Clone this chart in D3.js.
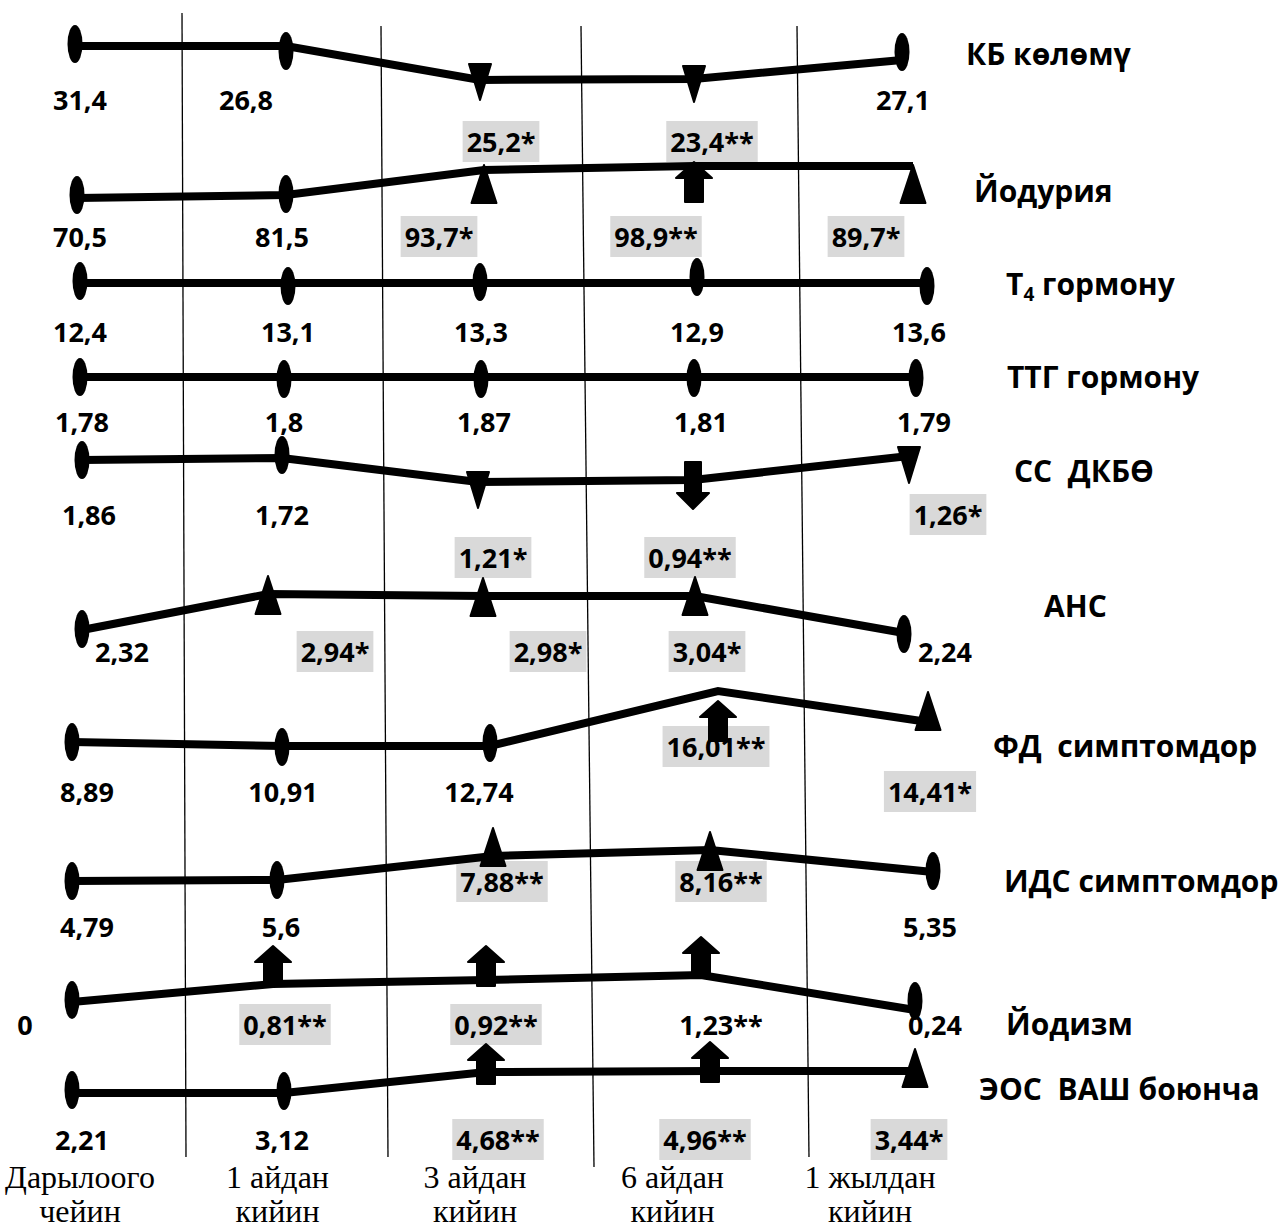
<!DOCTYPE html>
<html lang="ky">
<head>
<meta charset="UTF-8" />
<title>Көрсөткүчтөрдүн динамикасы</title>
<style>
  body { margin: 0; background: #fff; }
  svg text { font-family: "Open Sans", "Noto Sans", sans-serif; }
</style>
</head>
<body>
<div id="chart"></div>
<script src="https://cdn.jsdelivr.net/npm/d3@7"></script>
<script>
var width = 1288;
var height = 1231;

// time points and indicators
var periods = ["Дарылоого чейин", "1 айдан кийин", "3 айдан кийин", "6 айдан кийин", "1 жылдан кийин"];
var indicators = ["КБ көлөмү", "Йодурия", "Т4 гормону", "ТТГ гормону", "СС  ДКБӨ",
                  "АНС", "ФД  симптомдор", "ИДС симптомдор", "Йодизм", "ЭОС  ВАШ боюнча"];

// values per indicator
var kbValues     = [31.4, 26.8, 25.2, 23.4, 27.1];
var iodValues    = [70.5, 81.5, 93.7, 98.9, 89.7];
var t4Values     = [12.4, 13.1, 13.3, 12.9, 13.6];
var ttgValues    = [1.78, 1.8, 1.87, 1.81, 1.79];
var ssValues     = [1.86, 1.72, 1.21, 0.94, 1.26];
var ansValues    = [2.32, 2.94, 2.98, 3.04, 2.24];
var fdValues     = [8.89, 10.91, 12.74, 16.01, 14.41];
var idsValues    = [4.79, 5.6, 7.88, 8.16, 5.35];
var iodismValues = [0, 0.81, 0.92, 1.23, 0.24];
var eosValues    = [2.21, 3.12, 4.68, 4.96, 3.44];

// significance marks
var kbSig     = ["", "", "*", "**", ""];
var iodSig    = ["", "", "*", "**", "*"];
var t4Sig     = ["", "", "", "", ""];
var ttgSig    = ["", "", "", "", ""];
var ssSig     = ["", "", "*", "**", "*"];
var ansSig    = ["", "*", "*", "*", ""];
var fdSig     = ["", "", "", "**", "*"];
var idsSig    = ["", "", "**", "**", ""];
var iodismSig = ["", "**", "**", "**", ""];
var eosSig    = ["", "", "**", "**", "*"];

// marker kind at every point
var kbMarks     = ["ellipse", "ellipse", "triDown", "triDown", "ellipse"];
var iodMarks    = ["ellipse", "ellipse", "triUp", "arrowUp", "triUp"];
var t4Marks     = ["ellipse", "ellipse", "ellipse", "ellipse", "ellipse"];
var ttgMarks    = ["ellipse", "ellipse", "ellipse", "ellipse", "ellipse"];
var ssMarks     = ["ellipse", "ellipse", "triDown", "arrowDown", "triDown"];
var ansMarks    = ["ellipse", "triUp", "triUp", "triUp", "ellipse"];
var fdMarks     = ["ellipse", "ellipse", "ellipse", "arrowUp", "triUp"];
var idsMarks    = ["ellipse", "ellipse", "triUp", "triUp", "ellipse"];
var iodismMarks = ["ellipse", "arrowUp", "arrowUp", "arrowUp", "ellipse"];
var eosMarks    = ["ellipse", "ellipse", "arrowUp", "arrowUp", "triUp"];

var allValues = [kbValues, iodValues, t4Values, ttgValues, ssValues, ansValues, fdValues, idsValues, iodismValues, eosValues];
var allSig = [kbSig, iodSig, t4Sig, ttgSig, ssSig, ansSig, fdSig, idsSig, iodismSig, eosSig];
var allMarks = [kbMarks, iodMarks, t4Marks, ttgMarks, ssMarks, ansMarks, fdMarks, idsMarks, iodismMarks, eosMarks];

// ---- layout of the schematic (not data) ----
var colBase = [76, 283, 484, 700, 916];
var rowBase = [46, 198, 283, 377, 460, 630, 742, 881, 1002, 1093];
var lineShift = [
  [0, 0, 34, 33, 14], [0, -3, -28, -32, -32], [0, 0, 0, 0, 0], [0, 0, 0, 0, 0], [0, -2, 22, 20, -4],
  [0, -36, -34, -34, 3], [0, 4, 4, -51, -20], [0, -1, -25, -31, -9], [0, -18, -22, -27, 8], [0, 0, -21, -22, -22]
];
var markShift = [
  [-2, 5, 2, 5, -8], [-3, -1, 14, 16, 18], [-2, 3, -1, -6, 3], [0, 2, 2, 1, 1], [0, -3, 8, 5, 9],
  [-1, 1, 1, 0, 1], [0, 1, -3, 30, -11], [0, 0, -9, 1, -1], [-2, -18, -14, -18, -9], [-3, -2, -8, -9, -3]
];
var markDx = [
  [-1, 3, -4, -6, -14], [1, 3, 0, -6, -3], [4, 5, -4, -3, 11], [4, 1, -3, -6, 0], [6, -1, -6, -7, -7],
  [6, -15, -1, -5, -12], [-4, -1, 6, 18, 12], [-4, -6, 9, 10, 17], [-4, -10, 2, 1, -1], [-4, 1, 2, 10, -1]
];
var labBase = [110, 247, 342, 432, 525, 662, 802, 937, 1035, 1150];
var labAlt  = [152, 247, 342, 432, 568, 662, 757, 892, 1035, 1150];
var labUp = [
  [0, 0, 1, 1, 0], [0, 0, 0, 0, 0], [0, 0, 0, 0, 0], [0, 0, 0, 0, 0], [0, 0, 1, 1, 0],
  [0, 0, 0, 0, 0], [0, 0, 0, 1, 0], [0, 0, 1, 1, 0], [0, 0, 0, 0, 0], [0, 0, 0, 0, 0]
];
var labDx = [
  [5, -40, 21, 18, 1], [3, -4, -45, -38, -47], [0, 0, 1, 0, -8], [2, 0, 3, 7, 8], [7, 0, 15, -3, 39],
  [40, 67, 65, 12, 41], [15, 1, -11, -2, 2], [15, 4, 9, 11, -3], [-47, 12, 10, 20, 20], [10, -2, 12, -5, -6]
];
var noBox = [[8, 3]]; // row, column of a starred value printed without shading
var nameX = [966, 974, 1006, 1007, 1014, 1044, 993, 1004, 1006, 979];
var nameY = [65, 202, 295, 388, 482, 617, 757, 892, 1035, 1100];
var dividerTop = [[182, 13], [381, 26], [581, 26], [797, 26]];
var dividerBottom = [[186, 1157], [388, 1157], [594, 1167], [809, 1157]];

var colX = d3.scaleOrdinal().domain(periods).range(colBase);
var rowY = d3.scaleOrdinal().domain(indicators).range(rowBase);
var periodX = d3.scalePoint().domain(periods).range([80, 870]);

var comma = d3.formatLocale({decimal: ",", thousands: " ", grouping: [3], currency: ["", ""]});
var fmt = comma.format("");

var rows = indicators.map(function(name, r) {
  return {
    name: name,
    index: r,
    points: periods.map(function(p, i) {
      var lineY = rowY(name) + lineShift[r][i];
      var boxed = allSig[r][i] !== "" && !noBox.some(function(n) { return n[0] === r && n[1] === i; });
      return {
        x: colX(p) + markDx[r][i],
        y: lineY,
        my: lineY + markShift[r][i],
        mark: allMarks[r][i],
        text: fmt(allValues[r][i]) + allSig[r][i],
        boxed: boxed,
        lx: colX(p) + markDx[r][i] + labDx[r][i],
        ly: labUp[r][i] ? labAlt[r] : labBase[r]
      };
    })
  };
});

var svg = d3.select("#chart")
            .append("svg")
            .attr("width", width)
            .attr("height", height);

// thin vertical dividers between periods
svg.selectAll("line.divider")
   .data(d3.range(dividerTop.length))
   .enter()
   .append("line")
   .attr("class", "divider")
   .attr("x1", function(i) { return dividerTop[i][0]; })
   .attr("y1", function(i) { return dividerTop[i][1]; })
   .attr("x2", function(i) { return dividerBottom[i][0]; })
   .attr("y2", function(i) { return dividerBottom[i][1]; })
   .attr("stroke", "#000")
   .attr("stroke-width", 1.3);

// value labels (shaded when significant)
var allPoints = [];
rows.forEach(function(row) { row.points.forEach(function(p) { allPoints.push(p); }); });

var labels = svg.selectAll("g.value")
                .data(allPoints)
                .enter()
                .append("g")
                .attr("class", "value");
labels.append("rect")
      .attr("fill", "#d9d9d9");
labels.append("text")
      .attr("x", function(d) { return d.lx; })
      .attr("y", function(d) { return d.ly; })
      .attr("text-anchor", "middle")
      .style("font-size", "27px")
      .style("font-weight", 700)
      .text(function(d) { return d.text; });
labels.each(function(d) {
  var g = d3.select(this);
  var w = g.select("text").node().getComputedTextLength();
  g.select("rect")
   .attr("x", d.lx - w / 2 - 4)
   .attr("y", d.ly - 31)
   .attr("width", w + 8)
   .attr("height", 41)
   .attr("display", d.boxed ? null : "none");
});

// connecting lines
var line = d3.line()
             .x(function(d) { return d.x; })
             .y(function(d) { return d.y; });

svg.selectAll("path.trend")
   .data(rows)
   .enter()
   .append("path")
   .attr("class", "trend")
   .attr("d", function(d) { return line(d.points); })
   .attr("fill", "none")
   .attr("stroke", "#000")
   .attr("stroke-width", 8)
   .attr("stroke-linejoin", "miter");

// markers
function markerPath(d) {
  var x = d.x, y = d.my;
  if (d.mark === "triUp") {
    return "M" + x + "," + (y - 19) + "L" + (x + 12.5) + "," + (y + 19) + "L" + (x - 12.5) + "," + (y + 19) + "Z";
  }
  if (d.mark === "triDown") {
    return "M" + (x - 11) + "," + (y - 18) + "L" + (x + 11) + "," + (y - 18) + "L" + x + "," + (y + 18) + "Z";
  }
  if (d.mark === "arrowUp") {
    return "M" + x + "," + (y - 20) + "L" + (x + 18) + "," + (y - 4) + "L" + (x + 9) + "," + (y - 4) +
           "L" + (x + 9) + "," + (y + 20) + "L" + (x - 9) + "," + (y + 20) + "L" + (x - 9) + "," + (y - 4) +
           "L" + (x - 18) + "," + (y - 4) + "Z";
  }
  // arrowDown
  return "M" + (x - 8) + "," + (y - 23) + "L" + (x + 8) + "," + (y - 23) + "L" + (x + 8) + "," + (y + 8) +
         "L" + (x + 16) + "," + (y + 8) + "L" + x + "," + (y + 24) + "L" + (x - 16) + "," + (y + 8) +
         "L" + (x - 8) + "," + (y + 8) + "Z";
}

svg.selectAll("ellipse.mark")
   .data(allPoints.filter(function(d) { return d.mark === "ellipse"; }))
   .enter()
   .append("ellipse")
   .attr("class", "mark")
   .attr("cx", function(d) { return d.x; })
   .attr("cy", function(d) { return d.my; })
   .attr("rx", 7.5)
   .attr("ry", 19)
   .attr("fill", "#000");

svg.selectAll("path.mark")
   .data(allPoints.filter(function(d) { return d.mark !== "ellipse"; }))
   .enter()
   .append("path")
   .attr("class", "mark")
   .attr("d", markerPath)
   .attr("fill", "#000")
   .attr("stroke", "#000")
   .attr("stroke-width", 2)
   .attr("stroke-linejoin", "round");

// indicator names on the right
var names = svg.selectAll("text.name")
   .data(rows)
   .enter()
   .append("text")
   .attr("class", "name")
   .attr("x", function(d) { return nameX[d.index]; })
   .attr("y", function(d) { return nameY[d.index]; })
   .style("font-size", "30px")
   .style("font-weight", 700)
   .style("white-space", "pre");
names.each(function(d) {
  var t = d3.select(this);
  if (d.name.indexOf("Т4") === 0) {
    t.append("tspan").text("Т");
    t.append("tspan").attr("dy", 6).style("font-size", "19px").text("4");
    t.append("tspan").attr("dy", -6).text(d.name.slice(2));
  } else {
    t.text(d.name);
  }
});

// period labels along the bottom
var periodLabels = svg.selectAll("text.period")
   .data(periods)
   .enter()
   .append("text")
   .attr("class", "period")
   .attr("text-anchor", "middle")
   .style("font-family", "'Liberation Serif', 'Times New Roman', serif")
   .style("font-size", "32px");
periodLabels.each(function(p) {
  var cut = p.lastIndexOf(" ");
  var t = d3.select(this);
  t.append("tspan").attr("x", periodX(p)).attr("y", 1188).text(p.slice(0, cut));
  t.append("tspan").attr("x", periodX(p)).attr("y", 1222).text(p.slice(cut + 1));
});
</script>
</body>
</html>
